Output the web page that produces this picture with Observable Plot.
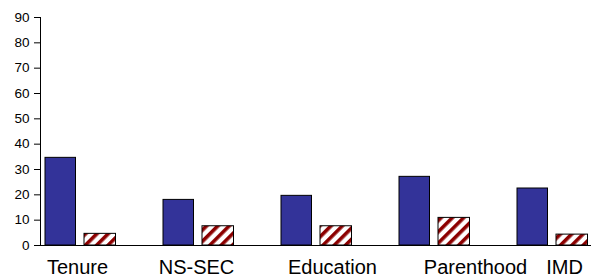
<!DOCTYPE html>
<html><head>
<meta charset="utf-8">
<script src="https://cdn.jsdelivr.net/npm/d3@7"></script>
<script src="https://cdn.jsdelivr.net/npm/@observablehq/plot@0.6"></script>
<style>
html,body{margin:0;padding:0;background:#fff}
svg{display:block;font-family:"Liberation Sans",Arial,sans-serif}
</style>
</head><body>
<div id="chart"></div>
<script>
const categories = ["Tenure", "NS-SEC", "Education", "Parenthood", "IMD"];
const seriesA = [34.6, 18.0, 19.6, 27.1, 22.5];
const seriesB = [4.6, 7.6, 7.6, 10.9, 4.3];
const yTicks = [0, 10, 20, 30, 40, 50, 60, 70, 80, 90];

const rows = categories.map((c, i) => ({category: c, a: seriesA[i], b: seriesB[i]}));
const labelShift = {"Tenure": -23, "NS-SEC": -22, "Education": -4, "Parenthood": 21, "IMD": -8};

const plot = Plot.plot({
  width: 591,
  height: 277,
  marginLeft: 40,
  marginRight: 0,
  marginTop: 17,
  marginBottom: 32,
  style: {fontFamily: "'Liberation Sans', Arial, sans-serif", background: "#fff", overflow: "visible"},
  x: {type: "band", domain: categories, range: [40, 632.5], padding: 0, axis: null},
  y: {domain: [0, 90], axis: null},
  marks: [
    Plot.axisY({ticks: yTicks, tickSize: 6, tickPadding: 5, fontSize: 13.5, stroke: "#000", color: "#000"}),
    Plot.barY(rows, {x: "category", y: "a", fill: "#333399", stroke: "#000", strokeWidth: 1, insetLeft: 4, insetRight: 83.5}),
    Plot.barY(rows, {x: "category", y: "b", fill: "url(#stripes)", stroke: "#000", strokeWidth: 1, insetLeft: 43, insetRight: 43.5}),
    Plot.ruleY([0], {stroke: "#000", strokeWidth: 1.2}),
    Plot.frame({anchor: "left", stroke: "#000"}),
    ...categories.map(c => Plot.text([c], {x: d => d, y: 0, dy: 22, dx: labelShift[c], fontSize: 20, fill: "#000"}))
  ]
});

const svg = d3.select(plot);
const defs = svg.insert("defs", ":first-child");
const pat = defs.append("pattern")
  .attr("id", "stripes")
  .attr("patternUnits", "userSpaceOnUse")
  .attr("width", 8).attr("height", 8)
  .attr("patternTransform", "rotate(45)");
pat.append("rect").attr("width", 8).attr("height", 8).attr("fill", "#fff");
pat.append("rect").attr("width", 3.6).attr("height", 8).attr("fill", "#8c0000");

document.getElementById("chart").appendChild(plot);
</script>
</body></html>
